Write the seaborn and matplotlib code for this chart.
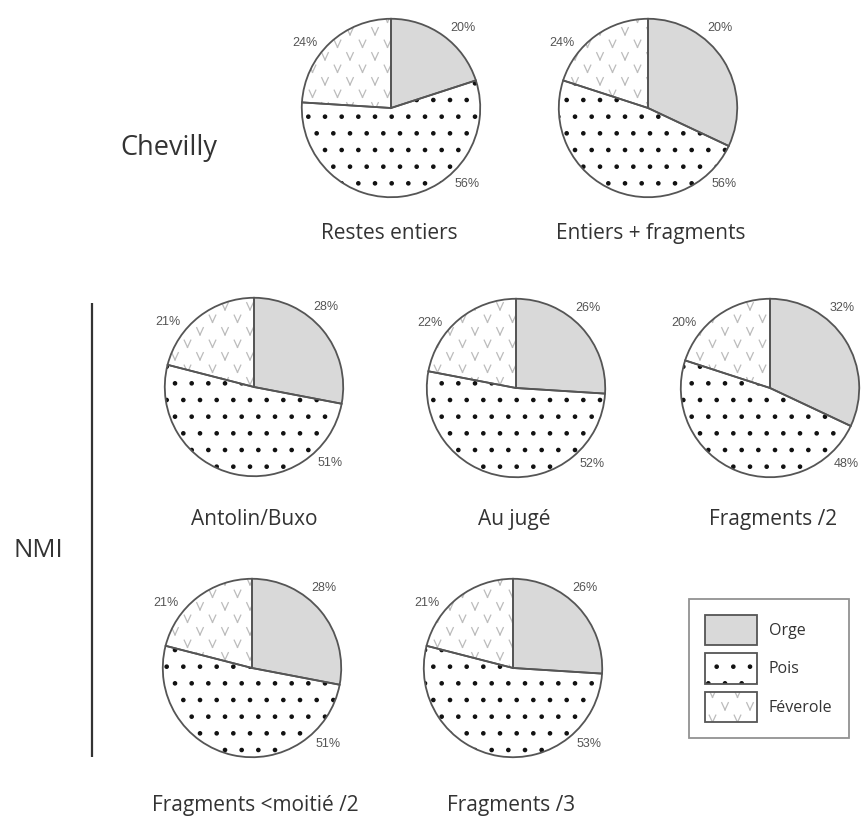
import numpy as np
import pandas as pd
import seaborn as sns
import matplotlib
matplotlib.use('Agg')
import matplotlib.pyplot as plt
import matplotlib.hatch as mhatch
import matplotlib.patches as mpatches
from matplotlib.path import Path
from matplotlib.legend_handler import HandlerTuple

# ---------------- data ----------------
categories = ['Orge', 'Pois', 'Féverole']
titles = ['Restes entiers', 'Entiers + fragments', 'Antolin/Buxo', 'Au jugé',
          'Fragments /2', 'Fragments <moitié /2', 'Fragments /3']
# wedge sizes as drawn (%)
orge = [20, 32, 28, 26, 32, 28, 26]
pois = [56, 48, 51, 52, 48, 51, 53]
feverole = [24, 20, 21, 22, 20, 21, 21]
# percentages printed next to the pies
orge_lbl = [20, 20, 28, 26, 32, 28, 26]
pois_lbl = [56, 56, 51, 52, 48, 51, 53]
feverole_lbl = [24, 24, 21, 22, 20, 21, 21]
groups = ['Chevilly', 'NMI']

df = pd.DataFrame({'title': titles, 'Orge': orge, 'Pois': pois, 'Féverole': feverole,
                   'l_Orge': orge_lbl, 'l_Pois': pois_lbl, 'l_Féverole': feverole_lbl})

# ---------------- style ----------------
sns.set_theme(style='white')
plt.rcParams['font.family'] = ['Open Sans', 'DejaVu Sans']
plt.rcParams['hatch.linewidth'] = 0.9


class ChevronHatch(mhatch.HatchPatternBase):
    """Light 'V' texture used for Féverole (two open strokes per V)."""
    def __init__(self, hatch, density):
        n = hatch.count('v')
        rows = 8 if n else 0
        cols = 4
        self.centers = []
        for i in range(rows):
            y = (i + 0.5) / rows
            if i % 2 == 0:
                xs = [(j + 0.5) / cols for j in range(cols)]
            else:
                xs = [j / cols for j in range(cols + 1)]
            self.centers += [(x, y) for x in xs]
        self.num_vertices = 4 * len(self.centers)

    def set_vertices_and_codes(self, vertices, codes):
        w, h = 0.033, 0.036
        for k, (x, y) in enumerate(self.centers):
            vertices[4 * k] = (x - w, y + h)
            vertices[4 * k + 1] = (x, y - h)
            vertices[4 * k + 2] = (x, y - h)
            vertices[4 * k + 3] = (x + w, y + h)
            codes[4 * k] = Path.MOVETO
            codes[4 * k + 1] = Path.LINETO
            codes[4 * k + 2] = Path.MOVETO
            codes[4 * k + 3] = Path.LINETO


mhatch._hatch_types.append(ChevronHatch)
mhatch._validate_hatch_pattern = lambda hatch: hatch

face_colors = ['#d9d9d9', 'white', 'white']
hatches = ['', '.', 'v']
hatch_colors = ['#d9d9d9', '#111111', '#bcbcbc']
outline = '#555555'
text_dark = '#333333'

W, H = 861, 816
fig = plt.figure(figsize=(W / 100, H / 100), dpi=100)
fig.patch.set_facecolor('white')

bg = fig.add_axes([0, 0, 1, 1])
bg.set_xlim(0, W)
bg.set_ylim(H, 0)
bg.axis('off')

# layout: pie centres (px), radius, title baselines
centers = [(391, 108), (648, 108), (254, 387), (516, 388), (770, 388), (252, 668), (513, 668)]
title_pos = [(389, 239), (651, 239), (254, 525), (514, 525), (773, 525), (255, 811), (511, 811)]
R = 91
lbl_angles = {'Orge': 42, 'Pois': 135, 'Féverole': -53}
lbl_rad = 1.21

for k, row in df.iterrows():
    cx, cy = centers[k]
    ax = fig.add_axes([(cx - R) / W, 1 - (cy + R) / H, 2 * R / W, 2 * R / H])
    vals = [row[c] for c in categories]
    wedges, _ = ax.pie(vals, startangle=90, counterclock=False, colors=face_colors,
                       wedgeprops=dict(linewidth=0))
    for wdg, hc, ht in zip(wedges, hatch_colors, hatches):
        wdg.set_edgecolor(hc)
        wdg.set_hatch(ht)
    ax.pie(vals, startangle=90, counterclock=False,
           wedgeprops=dict(fill=False, edgecolor=outline, linewidth=1.3))
    ax.set_xlim(-1.02, 1.02)
    ax.set_ylim(-1.02, 1.02)
    ax.axis('off')
    for c in categories:
        th = np.deg2rad(lbl_angles[c])
        ax.text(lbl_rad * np.sin(th), lbl_rad * np.cos(th), f"{row['l_' + c]}%",
                ha='center', va='center', fontsize=9, color='#555555',
                family=['Liberation Sans', 'DejaVu Sans'], clip_on=False)
    tx, ty = title_pos[k]
    bg.text(tx, ty, row['title'], ha='center', va='baseline', fontsize=15, color=text_dark)

# group labels and separator
bg.text(169, 155, groups[0], ha='center', va='baseline', fontsize=19.5, color=text_dark)
bg.text(38, 557, groups[1], ha='center', va='baseline', fontsize=18.5, color=text_dark)
bg.plot([92, 92], [303, 757], color='#333333', linewidth=1.6, solid_capstyle='butt')

# legend
handles = []
for fc, ht, hc in zip(face_colors, hatches, hatch_colors):
    p1 = mpatches.Patch(facecolor=fc, hatch=ht, edgecolor=hc, linewidth=0)
    p2 = mpatches.Patch(fill=False, edgecolor=outline, linewidth=1.3)
    handles.append((p1, p2))
fs = 11.5
px = fs * 100 / 72
leg = fig.legend(handles, categories, handler_map={tuple: HandlerTuple(ndivide=1)},
                 loc='upper left', bbox_to_anchor=(689 / W, 1 - 599 / H),
                 frameon=True, fancybox=False, fontsize=fs,
                 handlelength=52 / px, handleheight=2.54, labelspacing=8 / px,
                 handletextpad=12 / px, borderpad=16 / px, borderaxespad=0)
leg.get_frame().set_edgecolor('#777777')
leg.get_frame().set_linewidth(1.3)
for t in leg.get_texts():
    t.set_color(text_dark)

fig.savefig('out.png', dpi=100, facecolor='white')
